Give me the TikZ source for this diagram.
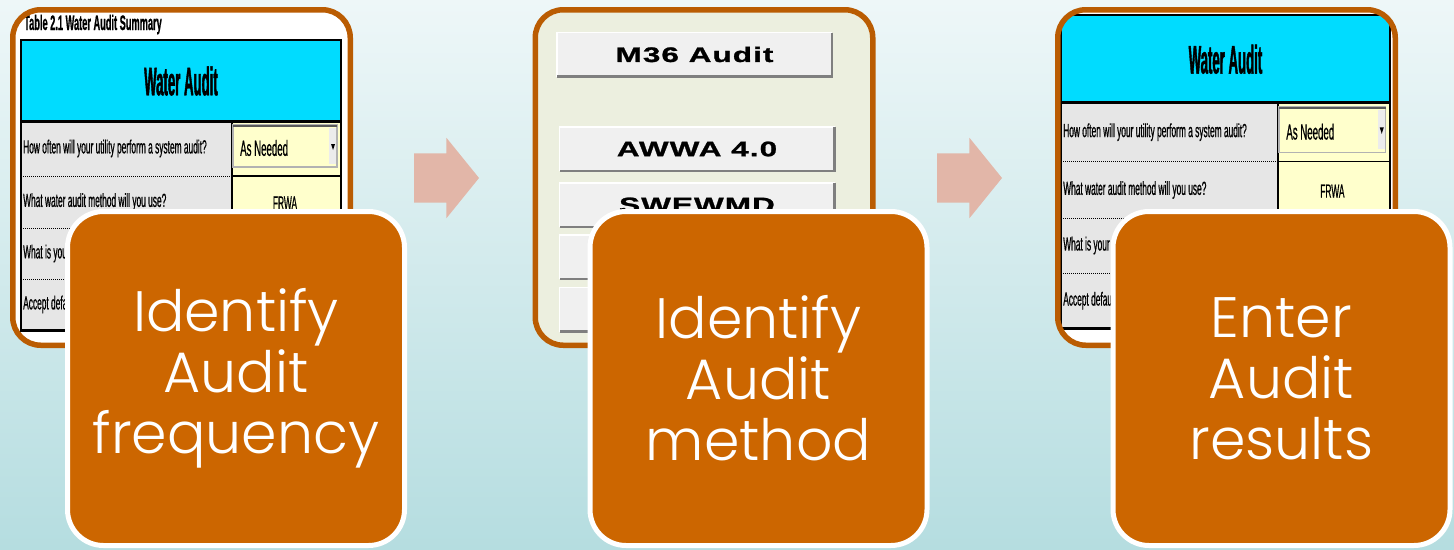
\documentclass[tikz,border=0pt]{standalone}
\usepackage{fontspec}
\usepackage{xcolor}
\usepackage{tikz}
\usetikzlibrary{shapes.arrows}

\newfontfamily\stepfont{Poppins Light}
\newfontfamily\sheetfont[FakeStretch=0.44,FakeBold=0.6]{Liberation Sans}
\newfontfamily\headfont[FakeStretch=0.33,FakeBold=1]{Liberation Sans}
\newfontfamily\btnfont[FakeStretch=1.5,LetterSpace=5,FakeBold=1.2]{Liberation Sans}

\definecolor{bgtop}{HTML}{EEF7F8}
\definecolor{bgbot}{HTML}{B5DDE0}
\definecolor{stepfill}{HTML}{CC6600}
\definecolor{shotbrown}{HTML}{BA5C02}
\definecolor{arrowfill}{HTML}{E2B6A8}
\definecolor{panelfill}{HTML}{ECEFDF}
\definecolor{sheetcyan}{HTML}{00DCFF}
\definecolor{sheetgrey}{HTML}{E6E6E6}
\definecolor{sheetyellow}{HTML}{FFFFCC}
\definecolor{btnface}{HTML}{F0F0F0}
\definecolor{btnshadow}{HTML}{7F7F7F}

\begin{document}
\begin{tikzpicture}[x=1pt, y=-1pt,
    shot/.style={rectangle, rounded corners=28, minimum width=337.5, minimum height=335.5, inner sep=0, outer sep=0},
    shotline/.style={draw=shotbrown, line width=5.5, rounded corners=28},
    stepbox/.style={rectangle, rounded corners=36, fill=stepfill, draw=white, line width=5,
      minimum width=337, minimum height=334, inner sep=0, outer sep=0, text=white, align=center,
      font=\stepfont\fontsize{57}{61}\selectfont},
    flowarrow/.style={single arrow, fill=arrowfill, minimum height=65,
      single arrow head extend=15.5, single arrow tip angle=102, inner sep=0},
    btn/.style={rectangle, fill=btnface, minimum width=275, minimum height=44, inner sep=0, outer sep=0,
      font=\btnfont\bfseries\fontsize{21}{21}\selectfont},
    rowtext/.style={anchor=west, inner sep=0, font=\sheetfont\fontsize{19}{19}\selectfont},
  ]
  % background
  \fill[top color=bgtop, bottom color=bgbot] (0,0) rectangle (1454,549);

  % screenshot panels
  \node[shot, fill=white] (shot1) at (181.5,177.5) {};
  \node[shot, fill=panelfill] (shot2) at (704,177.5) {};
  \node[shot, fill=white] (shot3) at (1226.5,177.5) {};
  \node[anchor=base west, inner sep=0, font=\sheetfont\bfseries\fontsize{21}{21}\selectfont] (title) at (24,30) {Table 2.1 Water Audit Summary};

  % water audit sheet, first and third panel
  \foreach \tx/\ty/\sx/\sy/\sn in {21/40/1/1/shot1, 1061/15/1.028/1.08/shot3} {
    \begin{scope}
      \clip[rounded corners=28] (\sn.south west) rectangle (\sn.north east);
      \begin{scope}[shift={(\tx,\ty)}, xscale=\sx, yscale=\sy]
        \fill[sheetcyan] (0,0) rectangle (320,81);
        \fill[sheetgrey] (0,81) rectangle (211,290);
        \fill[sheetyellow] (211,81) rectangle (320,290);
        \foreach \ry in {136,188,239} {
          \draw[densely dotted, line width=1] (0,\ry) -- (211,\ry);
          \draw[line width=1.2] (211,\ry) -- (320,\ry);
        }
        \draw[line width=1.2] (211,81) -- (211,290);
        \draw[line width=1.5] (0,0) -- (0,290) (320,0) -- (320,290);
        \draw[line width=2] (-1,0) -- (321,0);
        \draw[line width=3] (-1,81) -- (321,81) (-1,290) -- (321,290);
        \node[inner sep=0, font=\headfont\bfseries\fontsize{40}{40}\selectfont] (head-\sn) at (160,41) {Water Audit};
        \node[rowtext] (often-\sn) at (2,108.5) {How often will your utility perform a system audit?};
        \node[rowtext] (how-\sn) at (2,162) {What water audit method will you use?};
        \node[rowtext] (what-\sn) at (2,213.5) {What is your};
        \node[rowtext] (accept-\sn) at (2,264.5) {Accept default};
        % drop-down box
        \draw[fill=sheetyellow, draw=gray!60, line width=1.2] (212,85) rectangle (316,127);
        \draw[gray!70!black, line width=2] (212,86) -- (316,86);
        \fill[gray!15] (308,88) rectangle (315,124);
        \fill (310,104) -- (314,104) -- (312,110) -- cycle;
        \node[rowtext, font=\sheetfont\fontsize{22}{22}\selectfont] (needed-\sn) at (219,108) {As Needed};
        \node[inner sep=0, font=\sheetfont\fontsize{19}{19}\selectfont] (frwa-\sn) at (264,163) {FRWA};
      \end{scope}
    \end{scope}
  }

  % method buttons, second panel
  \node[btn] (m36) at (694.5,54.5) {M36 Audit};
  \foreach \by/\bname/\btext in {149/awwa/AWWA 4.0, 205/swewmd/SWEWMD, 257/btnd/, 309.5/btne/}
    \node[btn] (\bname) at (697,\by) {\btext};
  \foreach \bname in {m36,awwa,swewmd,btnd,btne} {
    \draw[white, line width=1.5] (\bname.south west) -- (\bname.north west) -- (\bname.north east);
    \draw[btnshadow, line width=2.5] (\bname.north east) -- (\bname.south east) -- (\bname.south west);
  }

  % panel borders
  \foreach \sn in {shot1,shot2,shot3}
    \draw[shotline] (\sn.south west) rectangle (\sn.north east);

  % arrows
  \node[flowarrow] (arr1) at (436.5,178) {\rule{0pt}{49pt}};
  \node[flowarrow] (arr2) at (959.5,178) {\rule{0pt}{49pt}};

  % steps
  \node[stepbox] (freq) at (236,378.5) {Identify\\Audit\\frequency};
  \node[stepbox] (method) at (758.5,378.5) {Identify\\Audit\\method};
  \node[stepbox] (results) at (1281.5,378.5) {Enter\\Audit\\results};
\end{tikzpicture}
\end{document}
